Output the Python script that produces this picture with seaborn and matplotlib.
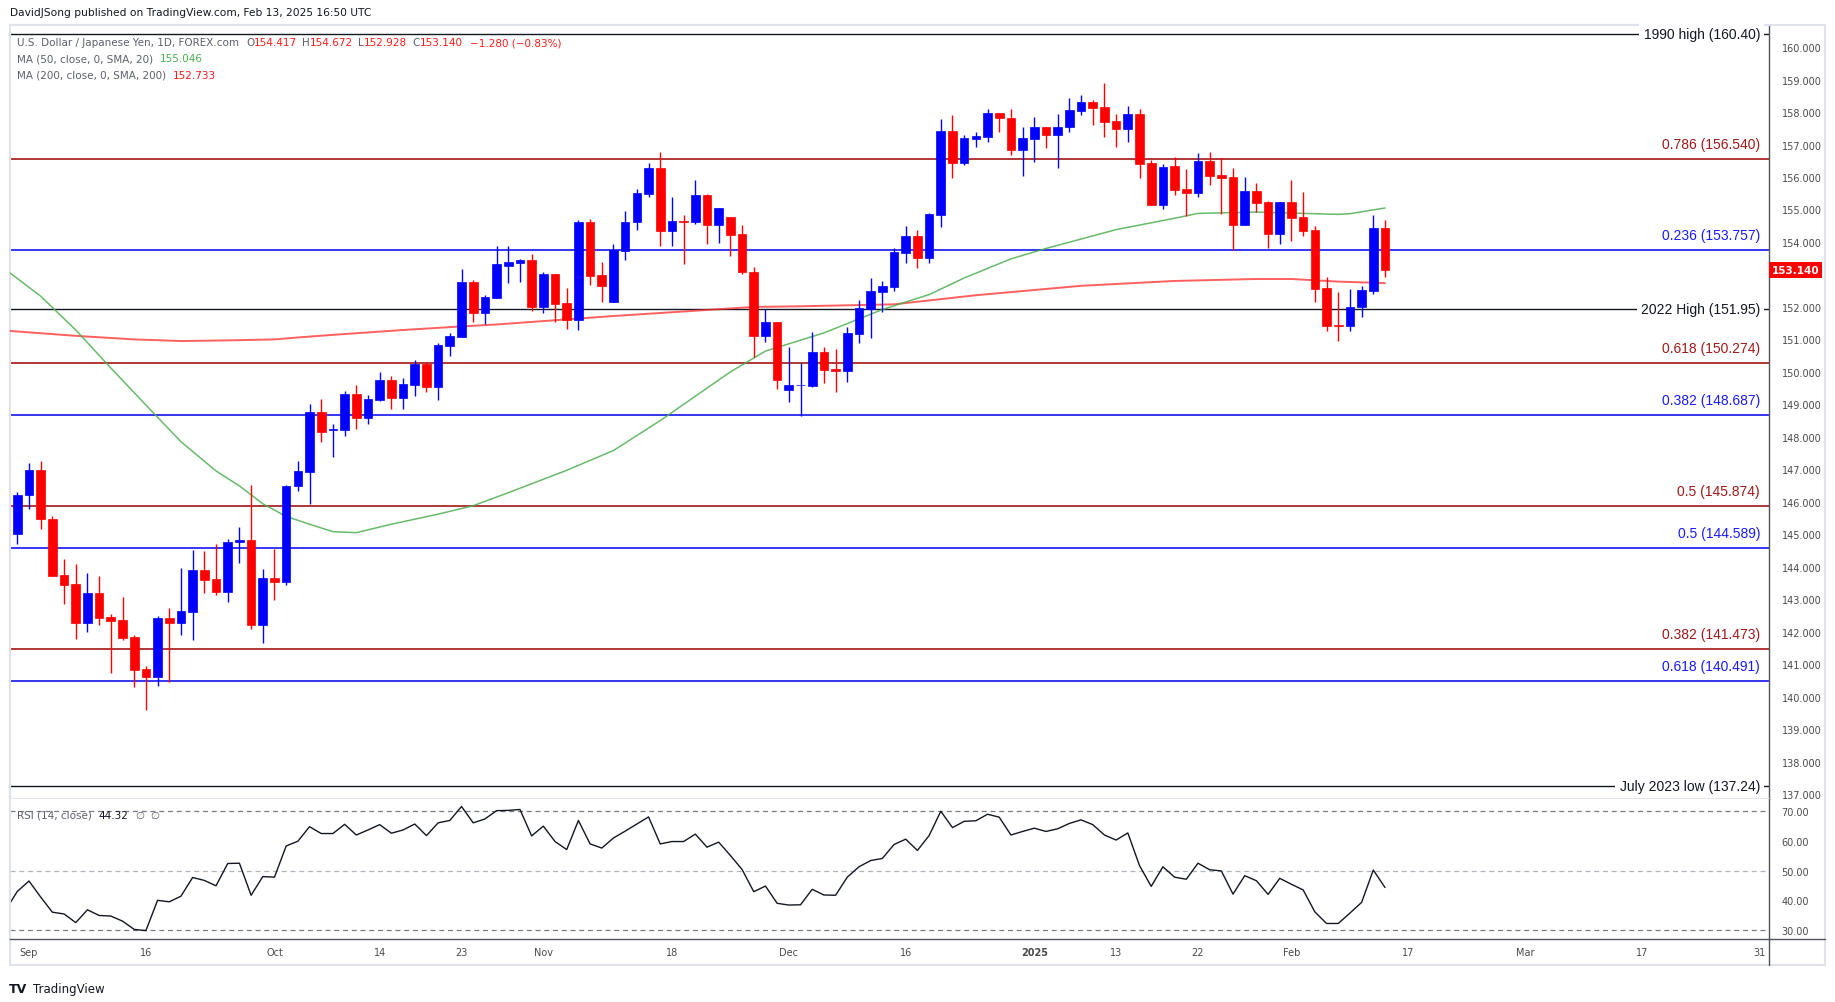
import numpy as np
import pandas as pd
import matplotlib
matplotlib.use("Agg")
import matplotlib.pyplot as plt
import matplotlib.transforms as mtransforms
from matplotlib.lines import Line2D
from matplotlib.patches import Rectangle
import seaborn as sns

W, H = 1835, 1003

# ---- values ----
first_candle = "2024-08-30"
opens = [145.00, 146.20, 146.97, 145.48, 143.75, 143.47, 142.28, 143.19, 142.45, 142.36,
         141.83, 140.84, 140.60, 142.42, 142.28, 142.62, 143.90, 143.63, 143.23, 144.75,
         144.83, 142.21, 143.66, 143.54, 146.48, 146.93, 148.75, 148.22, 148.20, 149.33,
         148.57, 149.13, 149.76, 149.19, 149.61, 150.23, 149.52, 150.81, 151.06, 152.78,
         151.80, 152.29, 153.27, 153.34, 153.43, 152.01, 153.00, 152.13, 151.61, 154.63,
         152.97, 152.14, 153.72, 154.61, 155.47, 156.27, 154.33, 154.66, 154.63, 155.44,
         154.52, 154.76, 154.23, 153.09, 151.09, 151.54, 149.45, 149.59, 149.58, 150.61,
         150.09, 150.04, 151.18, 151.94, 152.45, 152.60, 153.66, 154.17, 153.51, 154.83,
         157.43, 156.43, 157.17, 157.22, 157.98, 157.83, 156.83, 157.16, 157.55, 157.29,
         157.53, 158.03, 158.32, 158.14, 157.71, 157.47, 157.95, 156.42, 155.14, 156.33,
         155.63, 155.51, 156.49, 156.06, 156.00, 154.53, 155.56, 155.23, 154.25, 155.23,
         154.76, 154.36, 152.58, 151.45, 151.42, 151.99, 152.50, 154.417]
highs = [146.29, 147.21, 147.25, 145.57, 144.25, 144.09, 143.81, 143.72, 142.54, 143.07,
         141.89, 140.93, 142.48, 142.73, 143.97, 144.52, 144.49, 144.71, 144.86, 145.23,
         146.53, 143.94, 144.55, 146.53, 147.27, 149.02, 149.16, 148.41, 149.40, 149.61,
         149.30, 150.01, 149.86, 149.82, 150.36, 150.29, 150.90, 151.21, 153.18, 152.84,
         152.38, 153.89, 153.89, 153.49, 153.64, 153.09, 153.00, 152.57, 154.69, 154.72,
         153.37, 153.95, 154.94, 155.62, 156.43, 156.77, 155.38, 154.82, 155.90, 155.47,
         155.04, 154.76, 154.51, 153.24, 151.94, 151.54, 150.78, 150.26, 151.24, 150.78,
         150.72, 151.37, 152.20, 152.88, 152.79, 153.81, 154.48, 154.36, 154.88, 157.80,
         157.92, 157.28, 157.40, 158.08, 157.98, 158.08, 157.55, 157.86, 157.55, 157.95,
         158.42, 158.54, 158.38, 158.88, 157.95, 158.20, 158.08, 156.52, 156.39, 156.61,
         156.24, 156.74, 156.77, 156.58, 156.27, 156.00, 155.81, 155.27, 155.23, 155.90,
         155.53, 154.49, 152.92, 152.46, 152.56, 152.64, 154.83, 154.672]
lows = [144.69, 145.79, 145.15, 143.73, 142.86, 141.78, 142.00, 142.21, 140.73, 141.76,
        140.30, 139.58, 140.33, 140.45, 141.90, 141.75, 143.20, 143.14, 142.92, 144.13,
        142.09, 141.66, 142.99, 143.45, 146.32, 145.94, 147.85, 147.37, 148.04, 148.25,
        148.41, 149.09, 148.87, 148.87, 149.27, 149.39, 149.12, 150.50, 151.06, 151.55,
        151.46, 152.29, 152.75, 152.78, 151.86, 151.80, 151.55, 151.33, 151.30, 152.69,
        152.16, 152.14, 153.43, 154.36, 155.38, 153.87, 153.87, 153.31, 154.54, 153.93,
        153.98, 153.56, 153.01, 150.47, 150.93, 149.48, 149.08, 148.65, 149.54, 149.67,
        149.39, 149.70, 150.90, 151.03, 151.83, 152.48, 153.35, 153.20, 153.35, 154.46,
        155.97, 156.37, 156.92, 157.07, 157.38, 156.67, 156.03, 156.46, 156.89, 156.27,
        157.38, 157.90, 157.60, 157.23, 156.92, 157.07, 155.97, 155.14, 155.01, 155.45,
        154.81, 155.39, 155.76, 154.87, 153.76, 154.53, 154.93, 153.82, 153.94, 154.03,
        154.19, 152.16, 151.26, 150.96, 151.26, 151.69, 152.40, 152.928]
closes = [146.22, 146.97, 145.46, 143.73, 143.45, 142.28, 143.19, 142.43, 142.34, 141.81,
          140.82, 140.60, 142.42, 142.28, 142.64, 143.90, 143.60, 143.23, 144.77, 144.83,
          142.21, 143.66, 143.54, 146.50, 146.96, 148.75, 148.16, 148.25, 149.33, 148.57,
          149.15, 149.76, 149.19, 149.64, 150.23, 149.52, 150.84, 151.09, 152.78, 151.80,
          152.32, 153.31, 153.37, 153.43, 152.01, 153.00, 152.10, 151.61, 154.63, 152.94,
          152.63, 153.76, 154.63, 155.50, 156.27, 154.33, 154.66, 154.63, 155.44, 154.52,
          155.04, 154.21, 153.07, 151.09, 151.54, 149.76, 149.59, 149.60, 150.61, 150.07,
          150.04, 151.21, 151.98, 152.48, 152.63, 153.69, 154.17, 153.51, 154.85, 157.43,
          156.43, 157.19, 157.25, 157.98, 157.81, 156.83, 157.19, 157.55, 157.29, 157.55,
          158.05, 158.32, 158.12, 157.69, 157.47, 157.95, 156.40, 155.14, 156.32, 155.61,
          155.51, 156.49, 156.04, 155.97, 154.53, 155.56, 155.21, 154.25, 155.23, 154.74,
          154.34, 152.56, 151.42, 151.42, 152.01, 152.52, 154.43, 153.140]
change_text = "\u22121.280 (\u22120.83%)"

rsi_start = "2024-08-29"
rsi = [36.7, 43.0, 46.5, 41.1, 36.0, 35.4, 32.5, 36.8, 34.9, 34.7,
       33.0, 30.2, 29.8, 40.0, 39.5, 41.4, 47.7, 46.7, 44.9, 52.4,
       52.5, 41.7, 48.0, 47.8, 58.3, 59.9, 64.8, 62.5, 62.5, 65.6,
       62.0, 63.7, 65.5, 62.6, 63.7, 65.7, 61.8, 66.1, 66.9, 71.6,
       66.1, 67.4, 70.2, 70.3, 70.6, 61.7, 65.0, 59.8, 57.1, 66.9,
       59.0, 57.6, 61.0, 63.3, 65.7, 68.1, 59.0, 59.8, 59.8, 62.3,
       57.9, 59.6, 55.1, 50.4, 42.9, 44.8, 39.0, 38.4, 38.5, 43.7,
       41.8, 41.7, 47.8, 51.3, 53.4, 54.1, 58.8, 60.6, 56.8, 61.8,
       70.0, 64.5, 66.6, 66.8, 69.0, 68.0, 62.0, 63.2, 64.3, 63.2,
       64.1, 65.9, 67.1, 65.5, 62.0, 60.3, 62.7, 51.7, 44.7, 51.3,
       47.8, 47.1, 52.5, 50.3, 49.9, 42.1, 48.3, 46.6, 42.0, 47.4,
       45.4, 43.5, 36.1, 32.2, 32.2, 35.7, 39.3, 50.2, 44.32]

ma50_dates = ["2024-08-29", "2024-09-03", "2024-09-06", "2024-09-11", "2024-09-16",
              "2024-09-19", "2024-09-24", "2024-09-26", "2024-09-30", "2024-10-02",
              "2024-10-04", "2024-10-08", "2024-10-10", "2024-10-15", "2024-10-21",
              "2024-10-24", "2024-10-29", "2024-11-05", "2024-11-11", "2024-11-15",
              "2024-11-25", "2024-11-28", "2024-12-05", "2024-12-12", "2024-12-18",
              "2024-12-23", "2024-12-30", "2025-01-03", "2025-01-13", "2025-01-20",
              "2025-01-22", "2025-01-29", "2025-02-07", "2025-02-10", "2025-02-13"]
ma50_vals = [153.15, 152.33, 151.29, 150.12, 148.98, 147.85, 146.95, 146.49, 145.94, 145.55,
             145.31, 145.08, 145.05, 145.31, 145.62, 145.88, 146.28, 146.97, 147.58, 148.50,
             150.00, 150.64, 151.20, 151.92, 152.38, 152.89, 153.48, 153.80, 154.38, 154.73,
             154.88, 154.92, 154.85, 154.87, 155.046]

ma200_dates = ["2024-08-29", "2024-09-06", "2024-09-13", "2024-09-19", "2024-09-25",
               "2024-10-01", "2024-10-03", "2024-10-08", "2024-10-16", "2024-10-23",
               "2024-10-28", "2024-11-11", "2024-11-27", "2024-12-03", "2024-12-13",
               "2024-12-24", "2025-01-08", "2025-01-20", "2025-01-29", "2025-02-03",
               "2025-02-07", "2025-02-13"]
ma200_vals = [151.27, 151.11, 151.00, 150.95, 150.97, 151.00, 151.06, 151.14, 151.29, 151.40,
              151.46, 151.72, 152.00, 152.02, 152.08, 152.36, 152.65, 152.80, 152.86, 152.86,
              152.78, 152.733]

fib_levels = [156.540, 153.757, 150.274, 148.687, 145.874, 144.589, 141.473, 140.491]
fib_labels = ["0.786 (156.540)", "0.236 (153.757)", "0.618 (150.274)", "0.382 (148.687)",
              "0.5 (145.874)", "0.5 (144.589)", "0.382 (141.473)", "0.618 (140.491)"]
fib_set = ["red", "blue", "red", "blue", "red", "blue", "red", "blue"]

key_levels = [160.40, 151.95, 137.24]
key_labels = ["1990 high (160.40)", "2022 High (151.95)", "July 2023 low (137.24)"]

tick_dates = ["2024-09-02", "2024-09-16", "2024-10-01", "2024-10-14", "2024-10-23",
              "2024-11-01", "2024-11-18", "2024-12-02", "2024-12-16", "2025-01-02",
              "2025-01-13", "2025-01-22", "2025-02-03", "2025-02-17", "2025-03-03",
              "2025-03-17", "2025-03-31"]
tick_text = ["Sep", "16", "Oct", "14", "23", "Nov", "18", "Dec", "16", "2025",
             "13", "22", "Feb", "17", "Mar", "17", "31"]

# ---- style ----
sns.set_style("white")
plt.rcParams["font.family"] = ["DejaVu Sans"]
UP, DOWN = "#0000ff", "#ff0000"
LINE_COL = {"red": "#9b0000", "blue": "#0000f0"}
TEXT_COL = {"red": "#a01818", "blue": "#1a1aff"}
GRAY = "#5d606b"
AXIS = "#50535e"
FRAME = "#e0e3eb"
LABEL_FONT = "Liberation Sans"

# trading calendar (no bars on Dec 25 / Jan 1)
days = [d for d in pd.bdate_range("2024-08-29", "2025-03-31")
        if (d.month, d.day) not in [(12, 25), (1, 1)]]
pos = {d.strftime("%Y-%m-%d"): k for k, d in enumerate(days)}

c0 = pos[first_candle]
df = pd.DataFrame({"x": np.arange(c0, c0 + len(opens)), "open": opens, "high": highs,
                   "low": lows, "close": closes})
df["col"] = np.where(df["close"] >= df["open"], UP, DOWN)

r0 = pos[rsi_start]
rsi_df = pd.DataFrame({"x": np.arange(r0, r0 + len(rsi)), "rsi": rsi})
ma50_df = pd.DataFrame({"x": [pos[d] for d in ma50_dates], "ma": ma50_vals})
ma200_df = pd.DataFrame({"x": [pos[d] for d in ma200_dates], "ma": ma200_vals})

fig = plt.figure(figsize=(W / 100, H / 100), dpi=100)
fig.patch.set_facecolor("white")


def px_axes(l, t, r, b):
    return fig.add_axes([l / W, 1 - b / H, (r - l) / W, (b - t) / H])


ax = px_axes(10, 26, 1769, 800)
rax = px_axes(10, 800, 1769, 940)
xlim = (0.375, 150.85)

# ---- price pane ----
ax.set_xlim(*xlim)
ax.set_ylim(136.85, 160.68)

for lvl, grp in zip(fib_levels, fib_set):
    ax.axhline(lvl, color=LINE_COL[grp], lw=1.1, zorder=2)
for lvl in key_levels:
    ax.axhline(lvl, color="#131722", lw=1.0, zorder=2)

sns.lineplot(data=ma200_df, x="x", y="ma", ax=ax, color="#ff2a2a", lw=1.4, alpha=0.75,
             zorder=3, legend=False)
sns.lineplot(data=ma50_df, x="x", y="ma", ax=ax, color="#4caf50", lw=1.1, alpha=0.85,
             zorder=3, legend=False)

ax.vlines(df["x"], df["low"], df["high"], colors=df["col"], lw=1.0, zorder=4)
ax.bar(df["x"], df["close"] - df["open"], bottom=df["open"], width=0.74,
       color=df["col"], edgecolor=df["col"], linewidth=0.5, zorder=5)

blend = mtransforms.blended_transform_factory(ax.transAxes, ax.transData)
lab_x = 1 - 9 / 1759
for lvl, lab, grp in zip(fib_levels, fib_labels, fib_set):
    ax.annotate(lab, xy=(lab_x, lvl), xycoords=blend, xytext=(0, 15),
                textcoords="offset pixels", ha="right", va="center",
                color=TEXT_COL[grp], fontsize=10, family=LABEL_FONT, zorder=6)
for lvl, lab in zip(key_levels, key_labels):
    ax.annotate(lab, xy=(lab_x, lvl), xycoords=blend, xytext=(0, 0),
                textcoords="offset pixels", ha="right", va="center",
                color="#131722", fontsize=10, family=LABEL_FONT, zorder=6,
                bbox=dict(boxstyle="square,pad=0.3", fc="white", ec="none"))

ax.annotate(f"{closes[-1]:.3f}", xy=(1, closes[-1]), xycoords=blend, xytext=(3, 0),
            textcoords="offset pixels", ha="left", va="center", color="white",
            fontsize=7.5, fontweight="bold", annotation_clip=False,
            bbox=dict(boxstyle="square,pad=0.25", fc="#ff0000", ec="none"))

price_ticks = [v for v in range(137, 161) if v != 153]
ax.yaxis.tick_right()
ax.set_yticks(price_ticks)
ax.set_yticklabels([f"{v:.3f}" for v in price_ticks])
ax.tick_params(axis="y", length=0, pad=9, labelsize=7, labelcolor="#4a4a4a")
ax.set_xticks([])
ax.set_xlabel("")
ax.set_ylabel("")

# ---- RSI pane ----
rax.set_xlim(*xlim)
rax.set_ylim(26.97, 74.13)
rax.axhline(70, color="#787b86", lw=0.9, ls=(0, (4, 3)))
rax.axhline(50, color="#b2b5be", lw=0.9, ls=(0, (4, 3)))
rax.axhline(30, color="#787b86", lw=0.9, ls=(0, (4, 3)))
sns.lineplot(data=rsi_df, x="x", y="rsi", ax=rax, color="#131722", lw=1.0, legend=False)

rax.yaxis.tick_right()
rax.set_yticks([30, 40, 50, 60, 70])
rax.set_yticklabels([f"{v:.2f}" for v in [30, 40, 50, 60, 70]])
rax.tick_params(axis="y", length=0, pad=9, labelsize=7, labelcolor="#4a4a4a")
rax.set_xticks([pos[d] for d in tick_dates])
rax.set_xticklabels(tick_text)
rax.tick_params(axis="x", length=0, pad=6, labelsize=7, labelcolor="#4a4a4a")
for t in rax.get_xticklabels():
    if t.get_text() == "2025":
        t.set_fontweight("bold")
rax.set_xlabel("")
rax.set_ylabel("")

# ---- frames ----
for a in (ax, rax):
    a.spines["left"].set_color(FRAME)
    a.spines["left"].set_linewidth(1.5)
    a.spines["right"].set_color(AXIS)
    a.spines["right"].set_linewidth(1.0)
ax.spines["top"].set_color(FRAME)
ax.spines["top"].set_linewidth(1.5)
ax.spines["bottom"].set_color(FRAME)
ax.spines["bottom"].set_linewidth(1.2)
rax.spines["top"].set_visible(False)
rax.spines["bottom"].set_color(AXIS)
rax.spines["bottom"].set_linewidth(1.0)

fig.add_artist(Rectangle((10 / W, 1 - 966 / H), 1815 / W, 940 / H, transform=fig.transFigure,
                         fill=False, ec=FRAME, lw=1.5, zorder=0))
fig.add_artist(Line2D([1769 / W, 1825 / W], [1 - 940 / H, 1 - 940 / H], color=AXIS, lw=1.0))
fig.add_artist(Line2D([1769 / W, 1769 / W], [1 - 940 / H, 1 - 966 / H], color=AXIS, lw=1.0))

# ---- texts ----
renderer = fig.canvas.get_renderer()


def chain(x, y, parts, size=7.5):
    for s, color, gap in parts:
        t = fig.text(x / W, 1 - y / H, s, color=color, fontsize=size, ha="left", va="center")
        x = t.get_window_extent(renderer=renderer).x1 + gap


fig.text(10 / W, 1 - 13 / H, "DavidJSong published on TradingView.com, Feb 13, 2025 16:50 UTC",
         fontsize=7.7, color="#131722", ha="left", va="center")

red = "#ff1a1a"
chain(17, 43, [("U.S. Dollar / Japanese Yen, 1D, FOREX.com", GRAY, 7),
               ("O", GRAY, 0), (f"{opens[-1]:.3f}", red, 5),
               ("H", GRAY, 0), (f"{highs[-1]:.3f}", red, 5),
               ("L", GRAY, 0), (f"{lows[-1]:.3f}", red, 5),
               ("C", GRAY, 0), (f"{closes[-1]:.3f}", red, 7),
               (change_text, red, 0)])
chain(17, 59, [("MA (50, close, 0, SMA, 20)", GRAY, 7), (f"{ma50_vals[-1]:.3f}", "#4caf50", 0)])
chain(17, 76, [("MA (200, close, 0, SMA, 200)", GRAY, 7), (f"{ma200_vals[-1]:.3f}", red, 0)])
chain(17, 816, [("RSI (14, close)", GRAY, 7), (f"{rsi[-1]:.2f}", "#131722", 7),
                ("\u2205", GRAY, 5), ("\u2205", GRAY, 0)])

fig.text(9 / W, 1 - 990 / H, "TV", fontsize=9, fontweight="heavy", color="#131722",
         ha="left", va="center")
fig.text(33 / W, 1 - 990 / H, "TradingView", fontsize=8.5, color="#131722",
         ha="left", va="center")

fig.savefig("out.png", dpi=100, facecolor="white")
